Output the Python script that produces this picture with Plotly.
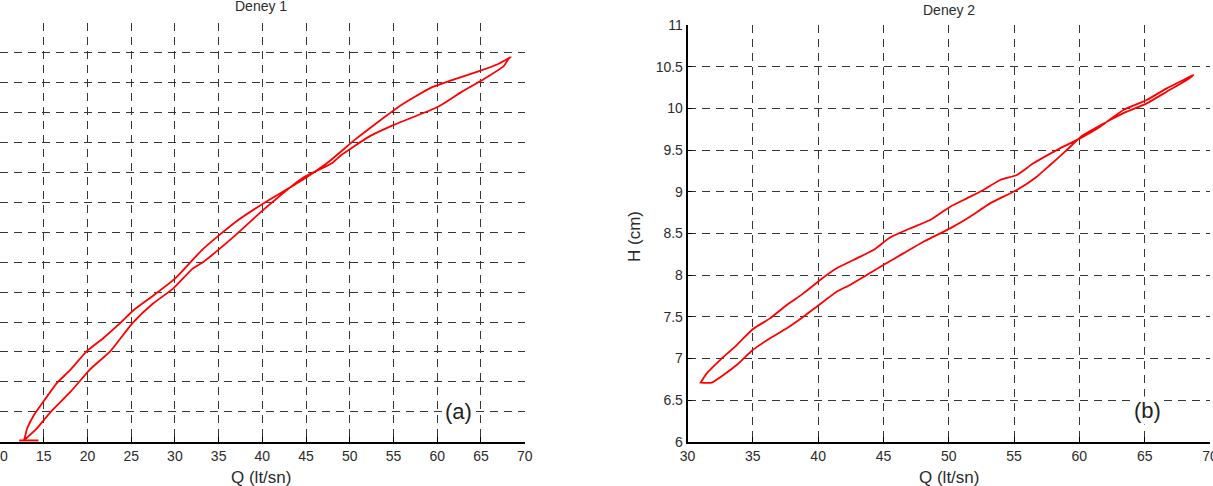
import plotly.graph_objects as go

# ---------------- Deney 1 (left panel) ----------------
q1_rise = [14.4, 12.2, 12.7, 13.1, 13.9, 15.2, 16.5, 18.1, 19.9, 21.8, 23.8, 25.2, 27.5, 30.1,
           33.2, 36.9, 40.3, 44.2, 47.6, 50.6, 55.6, 59.3, 61.6, 64.7, 66.9, 68.4]
h1_rise = [4.02, 4.02, 4.02, 4.22, 4.45, 4.72, 4.98, 5.21, 5.51, 5.73, 5.99, 6.19, 6.44, 6.74,
           7.22, 7.67, 8.00, 8.34, 8.68, 9.05, 9.60, 9.92, 10.04, 10.19, 10.31, 10.43]
q1_fall = [68.2, 67.6, 65.3, 62.7, 60.1, 55.1, 52.2, 49.1, 48.0, 44.6, 40.3, 36.9, 33.2, 32.0,
           29.8, 27.5, 25.2, 22.6, 20.3, 18.1, 15.8, 14.2, 12.7]
h1_fall = [10.41, 10.28, 10.06, 9.84, 9.60, 9.30, 9.10, 8.80, 8.66, 8.41, 7.90, 7.45, 7.00, 6.89,
           6.56, 6.31, 5.99, 5.51, 5.21, 4.84, 4.50, 4.22, 4.02]

# ---------------- Deney 2 (right panel) ----------------
q2_rise = [31.01, 31.47, 32.49, 33.77, 34.99, 36.32, 37.60, 38.87, 40.15, 41.42, 42.96, 44.23,
           45.51, 47.04, 48.57, 50.11, 51.38, 52.65, 53.93, 55.21, 56.48, 58.52, 60.05, 61.59,
           63.37, 65.16, 66.69, 68.22, 68.73]
h2_rise = [6.71, 6.82, 6.98, 7.16, 7.35, 7.48, 7.64, 7.78, 7.94, 8.08, 8.20, 8.30,
           8.45, 8.56, 8.66, 8.82, 8.92, 9.02, 9.14, 9.20, 9.34, 9.52, 9.64, 9.78,
           9.98, 10.10, 10.24, 10.36, 10.40]
q2_fall = [68.22, 66.69, 65.16, 63.63, 62.35, 61.07, 60.21, 58.90, 57.76, 56.74, 55.21, 53.16,
           51.63, 50.10, 48.06, 46.52, 44.99, 43.72, 42.44, 41.42, 39.89, 38.87, 37.60, 36.32,
           34.99, 33.77, 31.85, 31.01]
h2_fall = [10.34, 10.20, 10.06, 9.96, 9.86, 9.75, 9.67, 9.48, 9.32, 9.18, 9.02, 8.86,
           8.70, 8.56, 8.40, 8.26, 8.12, 8.00, 7.88, 7.80, 7.62, 7.50, 7.36, 7.24,
           7.10, 6.92, 6.71, 6.71]

x1_ticks = [10, 15, 20, 25, 30, 35, 40, 45, 50, 55, 60, 65, 70]
x2_ticks = [30, 35, 40, 45, 50, 55, 60, 65, 70]
y1_ticks = [4 + 0.5 * i for i in range(15)]
y2_ticks = [6, 6.5, 7, 7.5, 8, 8.5, 9, 9.5, 10, 10.5, 11]

titles = ["Deney 1", "Deney 2"]
x_title = "Q (lt/sn)"
y_title = "H (cm)"
panel_labels = ["(a)", "(b)"]

W, H = 1213, 486


def fx(p):
    return p / W


def fy(p):
    return (H - p) / H


RED = "#ff0000"
FONT = "Liberation Sans, Arial, sans-serif"
TXT = "#2b2b2b"

fig = go.Figure()
fig.add_trace(go.Scatter(x=q1_rise + q1_fall, y=h1_rise + h1_fall, mode="lines",
                         line=dict(color=RED, width=1.8, shape="spline", smoothing=0.5),
                         xaxis="x", yaxis="y", showlegend=False, hoverinfo="skip"))
fig.add_trace(go.Scatter(x=q2_rise + q2_fall + [q2_rise[0]], y=h2_rise + h2_fall + [h2_rise[0]],
                         mode="lines", line=dict(color=RED, width=1.8, shape="spline", smoothing=0.5),
                         xaxis="x2", yaxis="y2", showlegend=False, hoverinfo="skip"))

grid = dict(showgrid=True, gridcolor="#363636", gridwidth=1.3, griddash="8px,6px",
            zeroline=False, automargin=False)
tickbase = dict(ticks="inside", ticklen=5, tickwidth=1.2, tickcolor="black",
                ticklabeloverflow="allow", tickfont=dict(family=FONT, size=14, color=TXT))

fig.update_layout(
    width=W, height=H,
    margin=dict(l=0, r=0, t=0, b=0, pad=0, autoexpand=False),
    paper_bgcolor="white", plot_bgcolor="white",
    font=dict(family=FONT, size=14, color=TXT),
    xaxis=dict(domain=[0, fx(524.7)], range=[10, 70], tickmode="array", tickvals=x1_ticks,
               showline=True, linecolor="black", linewidth=1.6, anchor="y",
               ticklabelstandoff=1, **grid, **tickbase),
    yaxis=dict(domain=[fy(441.7), fy(23)], range=[4, 11], tickmode="array", tickvals=y1_ticks,
               showticklabels=False, showline=False, ticks="", anchor="x", **grid),
    xaxis2=dict(domain=[fx(687.5), fx(1210)], range=[30, 70], tickmode="array", tickvals=x2_ticks,
                showline=True, linecolor="black", linewidth=1.6, anchor="y2",
                ticklabelstandoff=1, **grid, **tickbase),
    yaxis2=dict(domain=[fy(441.7), fy(25)], range=[6, 11], tickmode="array", tickvals=y2_ticks,
                showline=True, linecolor="black", linewidth=1.6, anchor="x2",
                ticklabelstandoff=0, **grid, **tickbase),
)

ann = []
# panel titles
ann.append(dict(text=titles[0], x=fx(260.7), y=fy(6), xref="paper", yref="paper",
                xanchor="center", yanchor="middle", showarrow=False,
                font=dict(family=FONT, size=14, color=TXT)))
ann.append(dict(text=titles[1], x=fx(948.8), y=fy(10), xref="paper", yref="paper",
                xanchor="center", yanchor="middle", showarrow=False,
                font=dict(family=FONT, size=14, color=TXT)))
# axis titles
for cx in (260.7, 948.8):
    ann.append(dict(text=x_title, x=fx(cx), y=fy(477.5), xref="paper", yref="paper",
                    xanchor="center", yanchor="middle", showarrow=False,
                    font=dict(family=FONT, size=17, color=TXT)))
ann.append(dict(text=y_title, x=fx(635), y=fy(237), xref="paper", yref="paper",
                xanchor="center", yanchor="middle", showarrow=False, textangle=-90,
                font=dict(family=FONT, size=17, color=TXT)))
# panel labels
ann.append(dict(text=panel_labels[0], x=62.4, y=4.5, xref="x", yref="y",
                showarrow=False, bgcolor="white",
                font=dict(family=FONT, size=22, color="#222")))
ann.append(dict(text=panel_labels[1], x=65.2, y=6.38, xref="x2", yref="y2",
                showarrow=False, bgcolor="white",
                font=dict(family=FONT, size=22, color="#222")))
fig.update_layout(annotations=ann)

fig.write_html("out.html")
